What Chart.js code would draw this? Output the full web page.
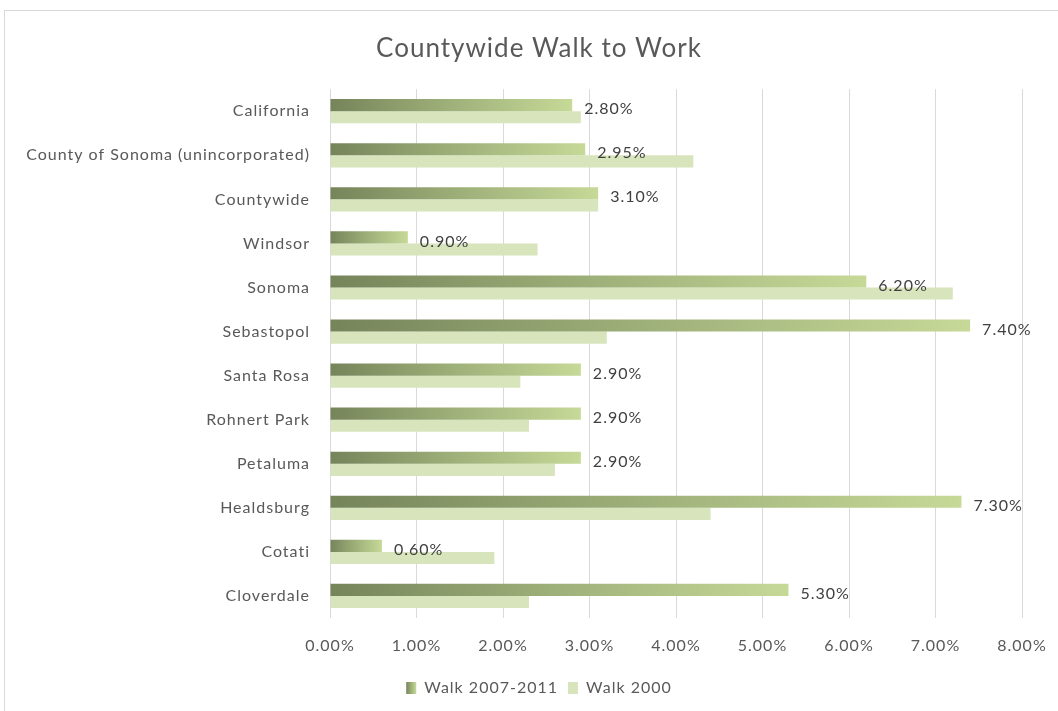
<!DOCTYPE html>
<html>
    <head>
        <title>Countywide Walk to Work</title>
        <script src="https://cdn.jsdelivr.net/npm/chart.js@4"></script>
        <style>
            body { margin:0; background:#fff; }
            #frame { position:absolute; left:4px; top:10px; width:1070px; height:720px; border:1px solid #d9d9d9; }
            #myChart { position:absolute; left:0; top:0; }
        </style>
        <script>
            // values
            var places = ['California', 'County of Sonoma (unincorporated)', 'Countywide', 'Windsor', 'Sonoma',
                          'Sebastopol', 'Santa Rosa', 'Rohnert Park', 'Petaluma', 'Healdsburg', 'Cotati', 'Cloverdale'];
            var walk0711 = [2.80, 2.95, 3.10, 0.90, 6.20, 7.40, 2.90, 2.90, 2.90, 7.30, 0.60, 5.30];
            var walk2000 = [2.90, 4.20, 3.10, 2.40, 7.20, 3.20, 2.20, 2.30, 2.60, 4.40, 1.90, 2.30];
            var xTicks = [0, 1, 2, 3, 4, 5, 6, 7, 8];

            var FONT = 'Lato, Carlito, Calibri, sans-serif';
            var DARK = '#76845a', MID = '#9fb17a', LIGHT = '#c6d997';

            var makeGrad = (ctx, x0, x1) => {
                var g = ctx.createLinearGradient(x0, 0, x1, 0);
                g.addColorStop(0, DARK);
                g.addColorStop(0.5, MID);
                g.addColorStop(1, LIGHT);
                return g;
            };

            // each bar gets its own dark -> light gradient
            var barGradient = (c) => {
                var chart = c.chart;
                if (!chart.chartArea || !chart.scales.x || c.raw == null) return MID;
                var xs = chart.scales.x;
                var x0 = xs.getPixelForValue(0), x1 = xs.getPixelForValue(c.raw);
                if (x1 - x0 < 1) return DARK;
                return makeGrad(chart.ctx, x0, x1);
            };

            // the original text is spaced out a little
            var spacing = {
                id: 'spacing',
                beforeUpdate(chart) { chart.ctx.letterSpacing = '1px'; },
                beforeDraw(chart) { chart.ctx.letterSpacing = '1px'; }
            };

            var valueLabels = {
                id: 'valueLabels',
                afterUpdate(chart) {
                    // legend swatch for the gradient series
                    var lg = chart.legend;
                    if (lg && lg.legendItems && lg.legendHitBoxes && lg.legendHitBoxes[0]) {
                        var hb = lg.legendHitBoxes[0];
                        lg.legendItems[0].fillStyle = makeGrad(chart.ctx, hb.left, hb.left + 10);
                    }
                },
                afterDatasetsDraw(chart) {
                    var ctx = chart.ctx;
                    var meta = chart.getDatasetMeta(0);
                    ctx.save();
                    ctx.font = '16px ' + FONT;
                    ctx.fillStyle = '#404040';
                    ctx.textAlign = 'left';
                    ctx.textBaseline = 'middle';
                    meta.data.forEach((bar, i) => {
                        ctx.fillText(walk0711[i].toFixed(2) + '%', bar.x + 12, bar.y + 4);
                    });
                    ctx.restore();
                }
            };
        </script>
    </head>
    <body>
        <div id="frame"></div>
        <canvas id="myChart" width="1058" height="711"></canvas>

        <script>
            Chart.defaults.font.family = FONT;
            Chart.defaults.color = '#595959';

            new Chart(document.getElementById('myChart'), {
                type: 'bar',
                data: {
                    labels: places,
                    datasets: [
                        {
                            label: 'Walk 2007-2011',
                            data: walk0711,
                            backgroundColor: barGradient,
                            categoryPercentage: 0.55,
                            barPercentage: 1.0
                        },
                        {
                            label: 'Walk 2000',
                            data: walk2000,
                            backgroundColor: '#d8e4bc',
                            categoryPercentage: 0.55,
                            barPercentage: 1.0
                        }
                    ]
                },
                options: {
                    indexAxis: 'y',
                    responsive: false,
                    animation: false,
                    layout: { padding: { top: 10, left: 20, right: 0, bottom: 5 } },
                    plugins: {
                        title: {
                            display: true,
                            text: 'Countywide Walk to Work',
                            color: '#595959',
                            font: { size: 26, weight: 'normal' },
                            padding: { top: 23, bottom: 25 }
                        },
                        legend: {
                            position: 'bottom',
                            labels: {
                                boxWidth: 10,
                                boxHeight: 12,
                                padding: 10,
                                color: '#595959',
                                font: { size: 16 },
                                generateLabels(chart) {
                                    var items = Chart.defaults.plugins.legend.labels.generateLabels(chart);
                                    items[0].fillStyle = MID;
                                    items.forEach(it => { it.lineWidth = 0; it.strokeStyle = 'rgba(0,0,0,0)'; });
                                    return items;
                                }
                            }
                        },
                        tooltip: { enabled: false }
                    },
                    scales: {
                        x: {
                            min: 0,
                            max: 8,
                            afterBuildTicks(scale) { scale.ticks = xTicks.map(v => ({ value: v })); },
                            afterFit(scale) { scale.height = 52; scale.paddingRight = 36; },
                            ticks: {
                                padding: 18,
                                font: { size: 16 },
                                color: '#595959',
                                callback: v => v.toFixed(2) + '%'
                            },
                            grid: { color: '#d9d9d9', drawTicks: false },
                            border: { display: false }
                        },
                        y: {
                            afterFit(scale) { scale.width = 310; },
                            ticks: {
                                padding: 20,
                                font: { size: 16 },
                                color: '#595959'
                            },
                            grid: { display: false, drawTicks: false },
                            border: { display: false }
                        }
                    }
                },
                plugins: [spacing, valueLabels]
            });
        </script>
    </body>
</html>
